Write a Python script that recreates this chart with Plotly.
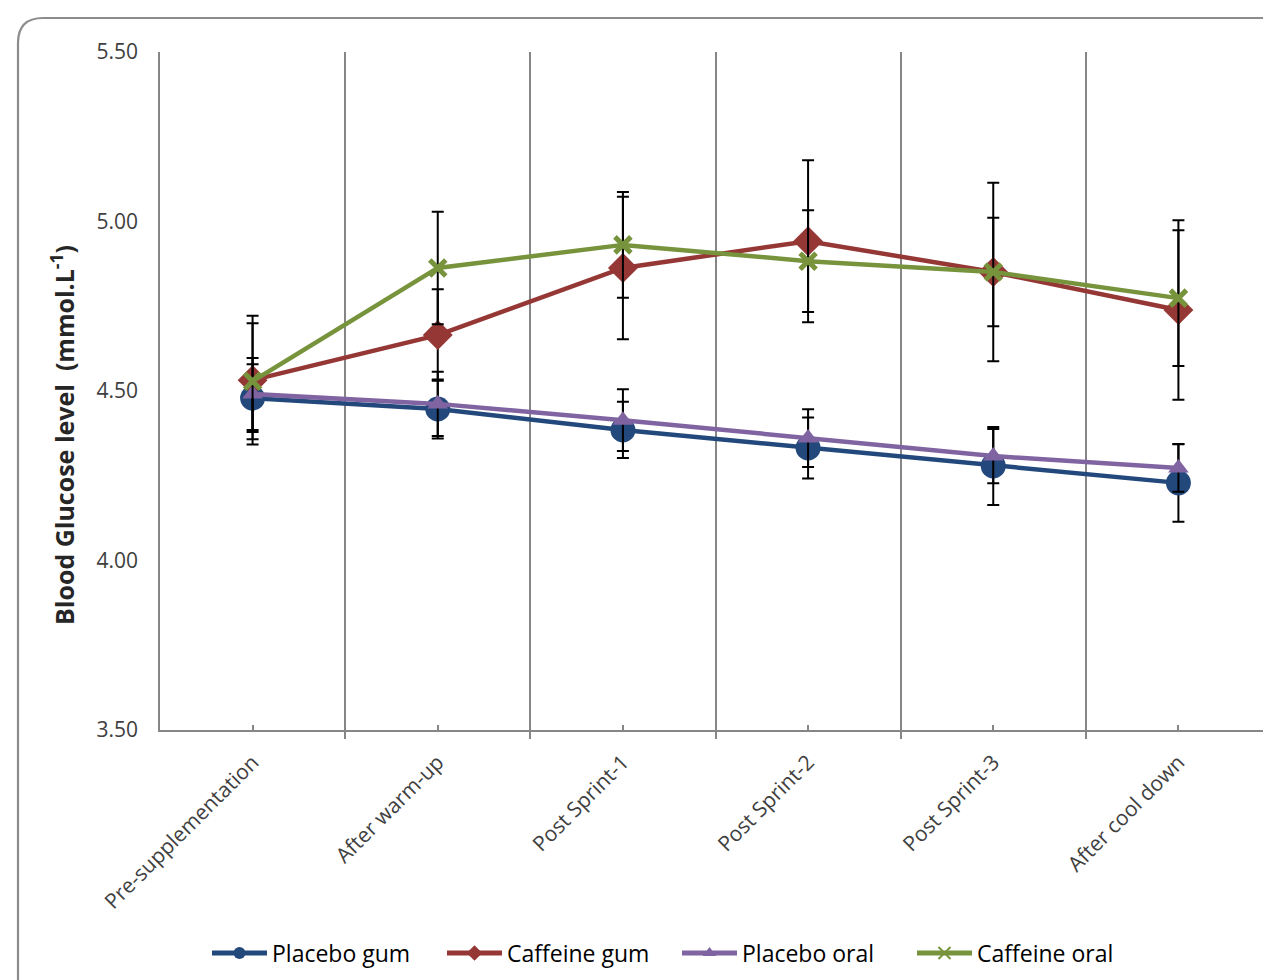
import plotly.graph_objects as go

categories = ["Pre-supplementation", "After warm-up", "Post Sprint-1",
              "Post Sprint-2", "Post Sprint-3", "After cool down"]

placebo_gum = [4.479, 4.447, 4.385, 4.332, 4.279, 4.229]
placebo_gum_err = [0.10, 0.087, 0.083, 0.09, 0.115, 0.115]

caffeine_gum = [4.532, 4.665, 4.863, 4.942, 4.851, 4.739]
caffeine_gum_err = [0.19, 0.135, 0.21, 0.239, 0.263, 0.265]

placebo_oral = [4.491, 4.462, 4.414, 4.361, 4.308, 4.273]
placebo_oral_err = [0.106, 0.095, 0.091, 0.085, 0.08, 0.07]

caffeine_oral = [4.529, 4.863, 4.931, 4.883, 4.851, 4.774]
caffeine_oral_err = [0.171, 0.166, 0.156, 0.15, 0.16, 0.2]

y_ticks = [3.5, 4.0, 4.5, 5.0, 5.5]

# page offset of the plot div is 8px (body margin)
OFF = 8
W, H = 1271 - OFF, 980 - OFF
L, R, T, B = 160 - OFF, 0, 52 - OFF, 980 - 730
PW, PH = W - L - R, H - T - B

xs = list(range(len(categories)))

series = [
    ("Placebo gum", placebo_gum, placebo_gum_err, "#23497C", "circle", 25, None),
    ("Caffeine gum", caffeine_gum, caffeine_gum_err, "#953735", "diamond", 23, None),
    ("Placebo oral", placebo_oral, placebo_oral_err, "#8064A2", "triangle-up", 18, None),
    ("Caffeine oral", caffeine_oral, caffeine_oral_err, "#77933C", "x-thin-open", 16, 5),
]

fig = go.Figure()
for name, ys, err, col, sym, size, lw in series:
    marker = dict(symbol=sym, size=size, color=col)
    if lw:
        marker["line"] = dict(color=col, width=lw)
    else:
        marker["line"] = dict(width=0)
    fig.add_trace(go.Scatter(
        x=xs, y=ys, name=name, mode="lines+markers",
        line=dict(color=col, width=4.5),
        marker=marker,
        error_y=dict(type="data", array=err, visible=True,
                     color="black", thickness=2, width=6),
    ))

def px2paper(px, py):
    # px, py are page pixel coordinates
    fx, fy = px - OFF, py - OFF
    return (fx - L) / PW, (H - B - fy) / PH

pts = [(18, 1010), (18, 43), (18, 18), (43, 18), (1300, 18)]
pp = [px2paper(*p) for p in pts]
path = (f"M {pp[0][0]},{pp[0][1]} L {pp[1][0]},{pp[1][1]} "
        f"Q {pp[2][0]},{pp[2][1]} {pp[3][0]},{pp[3][1]} L {pp[4][0]},{pp[4][1]}")
fig.add_shape(type="path", path=path, xref="paper", yref="paper",
              line=dict(color="#8C8C8C", width=2.2), layer="below")

tx, ty = px2paper(62, 435)
fig.add_annotation(
    text="<b>Blood Glucose level &nbsp;(mmol.L<sup>-1</sup>)</b>",
    textangle=-90, xref="paper", yref="paper",
    x=tx, y=ty, xanchor="center", yanchor="middle", showarrow=False,
    font=dict(size=25, color="#262626", family="Open Sans"),
)

lx, ly = px2paper(677, 953)

fig.update_layout(
    width=W, height=H,
    margin=dict(l=L, r=R, t=T, b=B),
    paper_bgcolor="white", plot_bgcolor="white",
    font=dict(family="Open Sans", color="#404040"),
    showlegend=True,
    legend=dict(orientation="h", x=lx, xanchor="center",
                y=ly, yanchor="middle",
                font=dict(size=23, color="black"),
                itemsizing="constant", itemwidth=55, entrywidth=165),
    xaxis=dict(
        range=[-0.5, 5.5], tickmode="array", tickvals=xs, ticktext=categories,
        tickangle=-45, tickfont=dict(size=21, color="#404040"),
        showgrid=False, zeroline=False,
        showline=True, linecolor="#868686", linewidth=1.5,
        ticks="inside", ticklen=5, tickcolor="#868686", tickwidth=1.5,
        ticklabelstandoff=10,
        minor=dict(tick0=-0.5, dtick=1, showgrid=True, gridcolor="#868686",
                   gridwidth=1.5, ticks="outside", ticklen=7,
                   tickcolor="#868686", tickwidth=1.5),
    ),
    yaxis=dict(
        range=[3.5, 5.5], tickmode="array", tickvals=y_ticks,
        ticktext=[f"{v:.2f}" for v in y_ticks],
        tickfont=dict(size=21, color="#404040"),
        showgrid=False, zeroline=False,
        showline=True, linecolor="#868686", linewidth=1.5,
        ticks="", ticklabelstandoff=16,
    ),
)

fig.write_html("out.html")
